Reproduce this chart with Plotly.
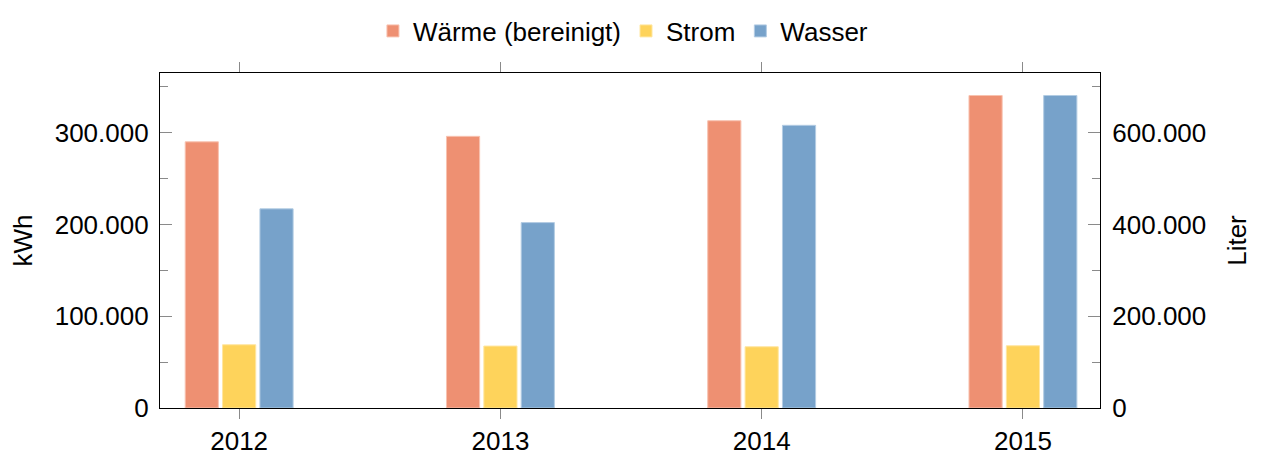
import plotly.graph_objects as go

years = ["2012", "2013", "2014", "2015"]
waerme = [290000, 296000, 313000, 340500]
strom = [68900, 67500, 66700, 67800]
wasser = [434000, 404000, 616000, 681000]

series_names = ["Wärme (bereinigt)", "Strom", "Wasser"]
colors = ["#EE9072", "#FED35B", "#77A2CA"]
edge = ["#F8C2B0", "#FFE6A0", "#B3CCE3"]

FONT = "Liberation Sans, Arial, Helvetica, sans-serif"
W = 0.127
offsets = [-0.2065, -0.0635, 0.0795]

fig = go.Figure()
for name, vals, c, e, off, ax in zip(series_names, [waerme, strom, wasser], colors, edge, offsets, ["y", "y", "y2"]):
    fig.add_trace(go.Bar(
        x=years, y=vals, name=name, yaxis=ax,
        width=W, offset=off,
        marker=dict(color=c, line=dict(color=e, width=1)),
    ))

tickgray = "#8a8a8a"
fig.update_layout(
    width=1263, height=453,
    margin=dict(l=152, r=171, t=65, b=53, autoexpand=False),
    paper_bgcolor="white", plot_bgcolor="white",
    barmode="overlay",
    separators=",.",
    font=dict(family=FONT, size=26, color="black"),
    showlegend=True,
    legend=dict(orientation="h", x=0.4925, xanchor="center",
                yref="container", y=1 - 23 / 453, yanchor="middle",
                font=dict(size=26), itemwidth=30, traceorder="normal",
                bgcolor="rgba(0,0,0,0)"),
    xaxis=dict(type="category", range=[-0.303, 3.295], automargin=False,
               showline=True, linecolor="black", linewidth=1.2, mirror="ticks",
               ticks="outside", ticklen=10, tickcolor=tickgray, tickwidth=1.2,
               showgrid=False, zeroline=False, tickfont=dict(size=26)),
    yaxis=dict(range=[0, 365000], tickvals=[0, 100000, 200000, 300000],
               tickformat=",.0f", automargin=False, ticklabelstandoff=5,
               showline=True, linecolor="black", linewidth=1.2,
               ticks="inside", ticklen=12, tickcolor=tickgray, tickwidth=1.2,
               minor=dict(ticks="inside", ticklen=8, dtick=50000, tick0=0, tickcolor=tickgray, tickwidth=1.2, showgrid=False),
               showgrid=False, zeroline=False,
               title=dict(text="kWh", standoff=18, font=dict(size=26))),
    yaxis2=dict(range=[0, 730000], tickvals=[0, 200000, 400000, 600000],
                tickformat=",.0f", overlaying="y", side="right", automargin=False,
                ticklabelstandoff=6,
                showline=True, linecolor="black", linewidth=1.2,
                ticks="inside", ticklen=12, tickcolor=tickgray, tickwidth=1.2,
                minor=dict(ticks="inside", ticklen=8, dtick=100000, tick0=0, tickcolor=tickgray, tickwidth=1.2, showgrid=False),
                showgrid=False, zeroline=False,
                title=dict(text="Liter", standoff=22, font=dict(size=26))),
)

fig.write_html("out.html")
